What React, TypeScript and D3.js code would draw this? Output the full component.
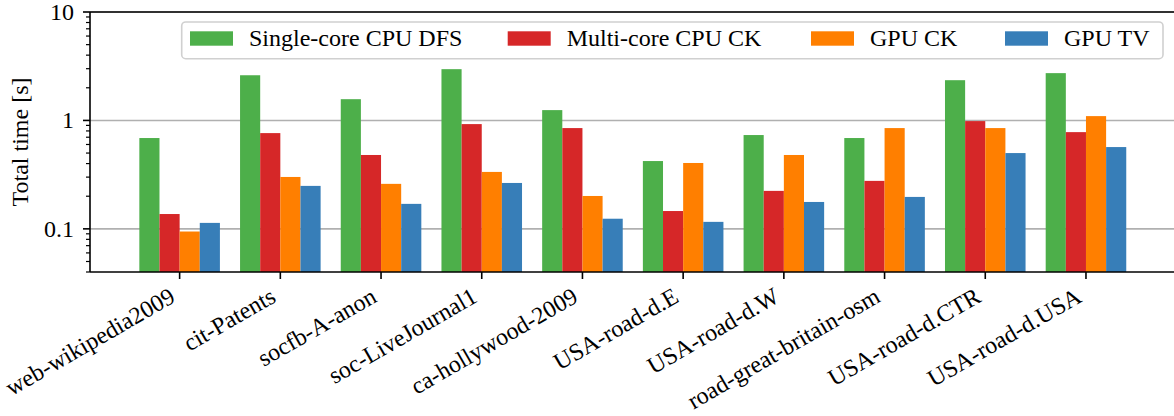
import React from "react";
import * as d3 from "d3";

const categories = [
  "web-wikipedia2009",
  "cit-Patents",
  "socfb-A-anon",
  "soc-LiveJournal1",
  "ca-hollywood-2009",
  "USA-road-d.E",
  "USA-road-d.W",
  "road-great-britain-osm",
  "USA-road-d.CTR",
  "USA-road-d.USA",
];

const seriesNames = ["Single-core CPU DFS", "Multi-core CPU CK", "GPU CK", "GPU TV"];
const seriesColors = ["#4daf4a", "#d62728", "#ff7f00", "#377eb8"];

const singleCoreDFS = [0.688, 2.61, 1.57, 2.97, 1.245, 0.422, 0.733, 0.688, 2.35, 2.73];
const multiCoreCK = [0.137, 0.764, 0.48, 0.925, 0.85, 0.146, 0.224, 0.277, 0.986, 0.78];
const gpuCK = [0.0945, 0.301, 0.26, 0.335, 0.201, 0.405, 0.48, 0.85, 0.85, 1.096];
const gpuTV = [0.1135, 0.249, 0.17, 0.265, 0.124, 0.116, 0.177, 0.197, 0.5, 0.568];

const seriesValues = [singleCoreDFS, multiCoreCK, gpuCK, gpuTV];

const yMajorTicks = [0.1, 1, 10];
const yTickLabels = ["0.1", "1", "10"];
const yLabel = "Total time [s]";

const W = 1174;
const H = 416;
const left = 90;
const top = 12;
const bottom = 272;
const xRight = 1175.6;
const FONT = "Liberation Serif, Times New Roman, serif";
const FS = 24;

export default function App() {
  const x = d3.scaleLinear().domain([-0.89, 9.89]).range([left, xRight]);
  const y = d3.scaleLog().domain([0.04, 10]).range([bottom, top]);
  const barW = 0.2;

  const minorTicks: number[] = [];
  for (const dec of [0.01, 0.1, 1]) {
    for (let k = 2; k <= 9; k++) {
      const v = k * dec;
      if (v >= 0.04 && v <= 10) minorTicks.push(v);
    }
  }

  const legendX = [190, 507.7, 811, 1005];
  const ts = { fontFamily: FONT, fontSize: FS };

  return (
    <svg
      width={W}
      height={H}
      style={{ position: "absolute", left: 0, top: 0, background: "#fff" }}
    >
      <rect x={0} y={0} width={W} height={H} fill="#fff" />
      {yMajorTicks.map((t) => (
        <line key={"g" + t} x1={left} x2={xRight} y1={y(t)} y2={y(t)} stroke="#b0b0b0" strokeWidth={1.6} />
      ))}
      {seriesValues.map((vals, s) =>
        vals.map((v, i) => {
          const x0 = x(i + (s - 1.5) * barW - barW / 2);
          const x1 = x(i + (s - 1.5) * barW + barW / 2);
          return (
            <rect
              key={s + "-" + i}
              x={x0}
              y={y(v)}
              width={x1 - x0}
              height={bottom - y(v)}
              fill={seriesColors[s]}
            />
          );
        })
      )}
      <line x1={left} x2={left} y1={top} y2={bottom} stroke="#000" strokeWidth={1.6} />
      <line x1={left} x2={xRight} y1={bottom} y2={bottom} stroke="#000" strokeWidth={1.6} />
      <line x1={left} x2={xRight} y1={top} y2={top} stroke="#000" strokeWidth={1.6} />
      {yMajorTicks.map((t, k) => (
        <g key={"yt" + t}>
          <line x1={left - 7} x2={left} y1={y(t)} y2={y(t)} stroke="#000" strokeWidth={1.6} />
          <text x={74} y={y(t)} dy="0.33em" textAnchor="end" style={ts} fill="#000">
            {yTickLabels[k]}
          </text>
        </g>
      ))}
      {minorTicks.map((t) => (
        <line key={"ym" + t} x1={left - 4} x2={left} y1={y(t)} y2={y(t)} stroke="#000" strokeWidth={1.2} />
      ))}
      <text
        transform={`translate(20,${(top + bottom) / 2}) rotate(-90)`}
        textAnchor="middle"
        dy="0.33em"
        style={ts}
        fill="#000"
      >
        {yLabel}
      </text>
      {categories.map((c, i) => (
        <g key={"xt" + c}>
          <line x1={x(i)} x2={x(i)} y1={bottom} y2={bottom + 7} stroke="#000" strokeWidth={1.6} />
          <text
            transform={`translate(${x(i) - 3},${bottom + 29}) rotate(-30)`}
            textAnchor="end"
            style={ts}
            fill="#000"
          >
            {c}
          </text>
        </g>
      ))}
      <rect x={181.7} y={22} width={1163 - 181.7} height={36.7} rx={4} ry={4} fill="#fff" fillOpacity={0.8} stroke="#d0d0d0" strokeWidth={1.6} />
      {seriesNames.map((n, s) => (
        <g key={"lg" + n}>
          <rect x={legendX[s]} y={31.3} width={43} height={14.4} fill={seriesColors[s]} />
          <text x={legendX[s] + 59} y={38.5} dy="0.33em" style={ts} fill="#000">
            {n}
          </text>
        </g>
      ))}
    </svg>
  );
}
